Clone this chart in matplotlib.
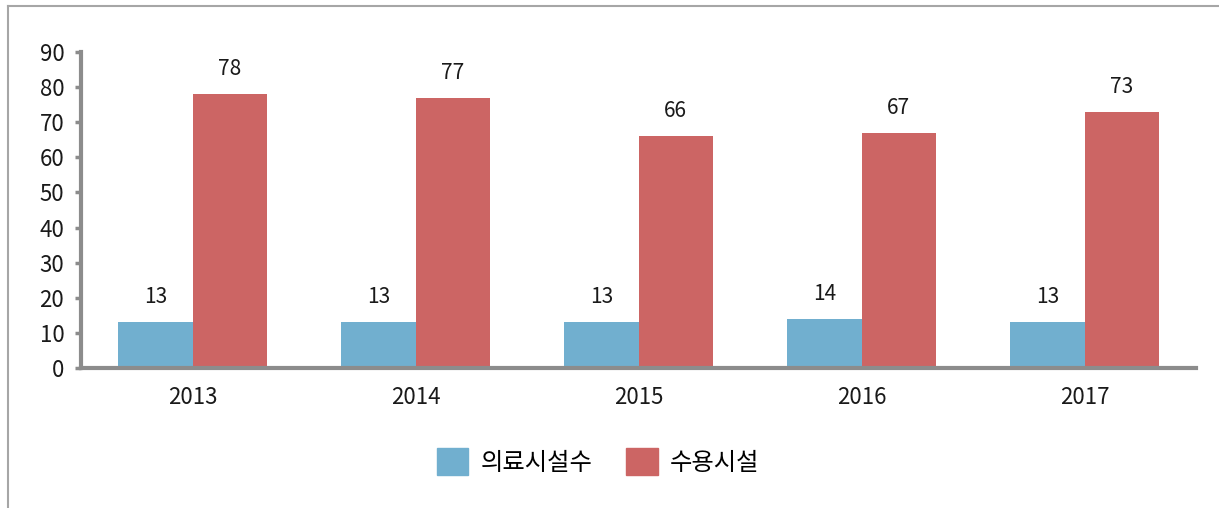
import matplotlib
matplotlib.use("Agg")
import matplotlib.pyplot as plt
from matplotlib.lines import Line2D
from matplotlib.patches import Patch
import numpy as np

plt.rcParams['font.family'] = ['Noto Sans CJK KR', 'DejaVu Sans']

years = ['2013', '2014', '2015', '2016', '2017']
medical = [13, 13, 13, 14, 13]
housing = [78, 77, 66, 67, 73]
series_names = ['의료시설수', '수용시설']
colors = ['#71AFCF', '#CC6564']
yticks = list(range(0, 91, 10))

fig = plt.figure(figsize=(12.19, 5.08), dpi=100)
ax = fig.add_axes([81/1219, 1-368/508, (1196-81)/1219, (368-52)/508])

x = np.arange(len(years))
w = 1/3
b1 = ax.bar(x - w/2, medical, w, color=colors[0], label=series_names[0])
b2 = ax.bar(x + w/2, housing, w, color=colors[1], label=series_names[1])

for bars, vals in ((b1, medical), (b2, housing)):
    for r, v in zip(bars, vals):
        ax.annotate(str(v), (r.get_x() + r.get_width()/2, v), xytext=(0, 18),
                    textcoords='offset points', ha='center', va='center', fontsize=15, color='#1a1a1a')

ax.set_xlim(-0.5, 4.5)
ax.set_ylim(0, 90)
ax.set_yticks(yticks)
ax.set_xticks(x)
ax.set_xticklabels(years)
ax.tick_params(axis='y', length=4, width=2.5, color='#8c8c8c', labelsize=16, pad=8, labelcolor='#1a1a1a')
ax.tick_params(axis='x', length=0, labelsize=16, pad=13, labelcolor='#1a1a1a')
for s in ['top', 'right']:
    ax.spines[s].set_visible(False)
for s in ['left', 'bottom']:
    ax.spines[s].set_color('#8c8c8c')
    ax.spines[s].set_linewidth(3)

handles = [Patch(color=colors[0]), Patch(color=colors[1])]
fig.legend(handles, series_names, loc='center', bbox_to_anchor=(598/1219, 1-462/508),
           ncol=2, frameon=False, fontsize=17.5, handlelength=1.3, handleheight=1.3,
           columnspacing=1.4, handletextpad=0.5)

# outer frame (top and left)
fig.add_artist(Line2D([8/1219, 1], [1-6/508, 1-6/508], color='#a6a6a6', lw=1.5))
fig.add_artist(Line2D([8/1219, 8/1219], [0, 1-6/508], color='#a6a6a6', lw=1.5))

fig.savefig('out.png', dpi=100)
